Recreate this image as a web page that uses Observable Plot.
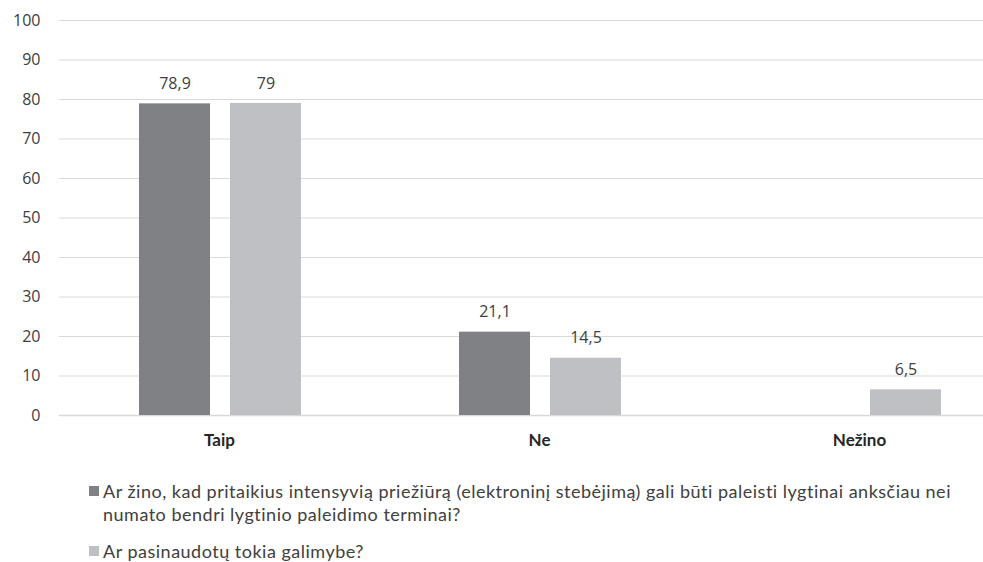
<!DOCTYPE html>
<html>
<head>
<meta charset="utf-8">
<script src="https://cdn.jsdelivr.net/npm/d3@7"></script>
<script src="https://cdn.jsdelivr.net/npm/@observablehq/plot@0.6"></script>
<style>
  html, body { margin: 0; padding: 0; background: #fff; overflow: hidden; }
  #chart svg { display: block; overflow: visible; }
  .legend { font-family: Lato, "Open Sans", sans-serif; font-size: 18px; letter-spacing: 0.5px; color: #404040; margin-left: 89px; }
  .item { position: relative; padding-left: 14px; line-height: 23px; }
  .sw { position: absolute; left: 0; top: 6px; width: 10px; height: 10px; }
</style>
</head>
<body>
<div id="chart"></div>
<div class="legend" id="legend"></div>
<script>
const categories = ["Taip", "Ne", "Nežino"];
const seriesLine1 = "Ar žino, kad pritaikius intensyvią priežiūrą (elektroninį stebėjimą) gali būti paleisti lygtinai anksčiau nei";
const seriesLine2 = "numato bendri lygtinio paleidimo terminai?";
const seriesName2 = "Ar pasinaudotų tokia galimybe?";
const seriesShort = ["s1", "s2"];
const values1 = [78.9, 21.1, null];
const values2 = [79, 14.5, 6.5];
const yTicks = [0, 10, 20, 30, 40, 50, 60, 70, 80, 90, 100];
const colors = ["#808184", "#bfc0c3"];

const data = [];
categories.forEach((c, i) => {
  if (values1[i] != null) data.push({cat: c, s: "s1", v: values1[i]});
  if (values2[i] != null) data.push({cat: c, s: "s2", v: values2[i]});
});
const gridData = categories.flatMap(c => yTicks.map(t => ({cat: c, t})));
const lastCat = categories[categories.length - 1];
const gridInner = gridData.filter(d => d.cat !== lastCat);
const gridLast = gridData.filter(d => d.cat === lastCat);
const fmt = v => String(v).replace(".", ",");

const chart = Plot.plot({
  width: 983,
  height: 455,
  marginTop: 20,
  marginBottom: 40,
  marginLeft: 59,
  marginRight: 0,
  style: {fontFamily: "'Open Sans', sans-serif", fontSize: "16px", color: "#404040", background: "#fff"},
  fx: {domain: categories, range: [59, 1019], paddingInner: 0, paddingOuter: 0, label: null, axis: null},
  x: {domain: seriesShort, range: [138.5, 300.5], paddingInner: 20/91, paddingOuter: 0, axis: null},
  y: {domain: [0, 100], ticks: yTicks, label: null, tickSize: 0, tickPadding: 19},
  color: {domain: seriesShort, range: colors},
  marks: [
    Plot.ruleY(gridInner, {fx: "cat", y: "t", stroke: "#d9d9d9", strokeWidth: d => d.t === 0 ? 1.5 : 1}),
    Plot.ruleY(gridLast, {fx: "cat", y: "t", stroke: "#d9d9d9", strokeWidth: d => d.t === 0 ? 1.5 : 1, insetRight: -70}),
    Plot.barY(data, {fx: "cat", x: "s", y: "v", fill: "s"}),
    Plot.text(data, {fx: "cat", x: "s", y: "v", text: d => fmt(d.v), dy: -20, fill: "#404040", fontSize: 16}),
    Plot.axisFx({domain: categories, anchor: "bottom", tickSize: 0, tickPadding: 18, fontWeight: "bold", fontSize: 17, fontFamily: "Lato, sans-serif", label: null, fill: "#262626"})
  ]
});
document.getElementById("chart").appendChild(chart);

const leg = document.getElementById("legend");
leg.innerHTML = `
<div class="item" style="margin-top:25px"><span class="sw" style="background:${colors[0]}"></span>${seriesLine1}<br>${seriesLine2}</div>
<div class="item" style="margin-top:14px"><span class="sw" style="background:${colors[1]}"></span>${seriesName2}</div>`;
</script>
</body>
</html>
